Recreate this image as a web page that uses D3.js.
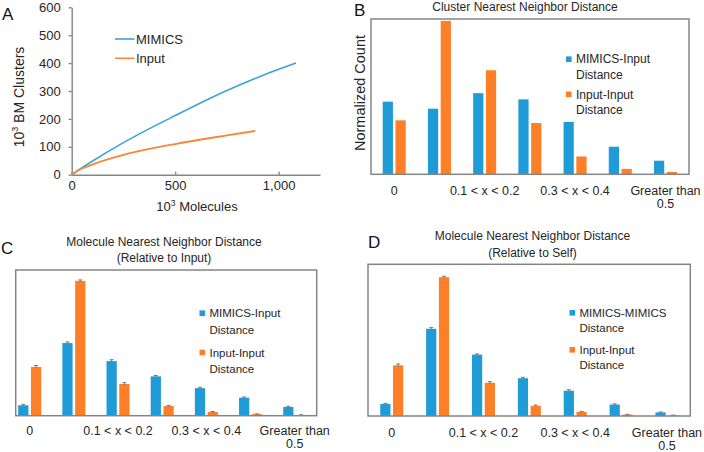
<!DOCTYPE html>
<html>
<head>
<meta charset="utf-8">
<script src="https://cdn.jsdelivr.net/npm/d3@7"></script>
<style>
  html, body { margin: 0; padding: 0; background: #fff; }
  svg { display: block; font-family: "Liberation Sans", Arial, sans-serif; }
</style>
</head>
<body>
<svg id="chart" width="704" height="452"></svg>
<script>
// ---------- DATA ----------
// Panel A: cumulative BM clusters vs molecules (10^3)
const mimicsCurveX = [0, 50, 105, 250, 500, 750, 910, 1084];
const mimicsCurveY = [0, 25, 51, 115, 212, 302, 352, 400];
const inputCurveX  = [0, 50, 105, 250, 500, 750, 887];
const inputCurveY  = [0, 22, 38, 71, 110, 141, 157];
const axisATicksX = [0, 500, 1000];
const axisATicksY = [0, 100, 200, 300, 400, 500, 600];

// Distance bins
const categories = ["0", "0 < x < 0.1", "0.1 < x < 0.2", "0.2 < x < 0.3", "0.3 < x < 0.4", "0.4 < x < 0.5", "Greater than 0.5"];
const shownTickLabels = ["0", "0.1 < x < 0.2", "0.3 < x < 0.4", "Greater than 0.5"];

// Panel B: cluster nearest neighbor distance
const clusterMimicsInput = [0.187, 0.169, 0.209, 0.193, 0.135, 0.071, 0.035];
const clusterInputInput  = [0.139, 0.395, 0.268, 0.132, 0.046, 0.014, 0.006];

// Panel C: molecule NN distance (relative to input)
const relInputMimics    = [0.045, 0.314, 0.236, 0.170, 0.119, 0.078, 0.038];
const relInputMimicsErr = [0.004, 0.005, 0.006, 0.004, 0.004, 0.003, 0.003];
const relInputInput     = [0.211, 0.583, 0.137, 0.042, 0.016, 0.007, 0.003];
const relInputInputErr  = [0.006, 0.004, 0.006, 0.003, 0.002, 0.001, 0.001];

// Panel D: molecule NN distance (relative to self)
const relSelfMimics    = [0.050, 0.365, 0.257, 0.158, 0.106, 0.048, 0.015];
const relSelfMimicsErr = [0.003, 0.005, 0.003, 0.004, 0.004, 0.003, 0.002];
const relSelfInput     = [0.212, 0.581, 0.139, 0.043, 0.017, 0.006, 0.003];
const relSelfInputErr  = [0.006, 0.004, 0.005, 0.003, 0.002, 0.001, 0.001];

// ---------- STYLE ----------
const BLUE = "#1f9bd7";
const ORANGE = "#fd7f28";
const FRAME = "#858585";
const TEXT = "#262626";

const svg = d3.select("#chart");
svg.append("rect").attr("width", 704).attr("height", 452).attr("fill", "#fff");

function panelLetter(t, x, y) {
  svg.append("text").attr("x", x).attr("y", y).attr("font-size", 17)
    .attr("fill", "#111").text(t);
}

// ---------- PANEL A ----------
(function () {
  const x = d3.scaleLinear().domain([0, 1200]).range([71.7, 320]);
  const y = d3.scaleLinear().domain([0, 600]).range([174.7, 7.3]);
  const g = svg.append("g");

  const xAxis = g.append("g").attr("transform", `translate(0,${y(0)})`)
    .call(d3.axisBottom(x).tickValues(axisATicksX).tickSize(-3).tickSizeOuter(0).tickPadding(8));
  const yAxis = g.append("g").attr("transform", `translate(${x(0)},0)`)
    .call(d3.axisLeft(y).tickValues(axisATicksY).tickSize(3).tickSizeOuter(0).tickPadding(8));
  [xAxis, yAxis].forEach(a => {
    a.selectAll("path, line").attr("stroke", FRAME).attr("stroke-width", 1.4);
    a.selectAll("text").attr("font-size", 13).attr("fill", TEXT)
      .attr("font-family", "Liberation Sans, Arial, sans-serif");
  });
  xAxis.selectAll("text").attr("dy", "0.6em");

  const line = d3.line().x(d => x(d[0])).y(d => y(d[1])).curve(d3.curveMonotoneX);
  const mim = mimicsCurveX.map((v, i) => [v, mimicsCurveY[i]]);
  const inp = inputCurveX.map((v, i) => [v, inputCurveY[i]]);
  g.append("path").datum(mim).attr("d", line).attr("fill", "none")
    .attr("stroke", "#3aa2dc").attr("stroke-width", 1.6);
  g.append("path").datum(inp).attr("d", line).attr("fill", "none")
    .attr("stroke", "#f8873a").attr("stroke-width", 1.8);

  // legend
  const leg = [["MIMICS", "#3aa2dc", 39], ["Input", "#f8873a", 58.3]];
  leg.forEach(([t, c, yy]) => {
    g.append("line").attr("x1", 115).attr("x2", 134.5).attr("y1", yy).attr("y2", yy)
      .attr("stroke", c).attr("stroke-width", 1.6);
    g.append("text").attr("x", 136).attr("y", yy).attr("dy", "0.35em")
      .attr("font-size", 13).attr("fill", TEXT).text(t);
  });

  // axis titles
  const yl = g.append("text").attr("transform", "translate(24,97) rotate(-90)")
    .attr("text-anchor", "middle").attr("font-size", 14).attr("fill", TEXT);
  yl.append("tspan").text("10");
  yl.append("tspan").attr("font-size", 9).attr("dy", -6).text("3");
  yl.append("tspan").attr("dy", 6).text(" BM Clusters");

  const xl = g.append("text").attr("x", 197).attr("y", 211)
    .attr("text-anchor", "middle").attr("font-size", 13).attr("fill", TEXT);
  xl.append("tspan").text("10");
  xl.append("tspan").attr("font-size", 8.5).attr("dy", -5).text("3");
  xl.append("tspan").attr("dy", 5).text(" Molecules");

  panelLetter("A", 2, 20);
})();

// ---------- BAR PANELS ----------
function barPanel(opt) {
  const g = svg.append("g");
  const x0 = d3.scaleBand().domain(categories).range(opt.xRange).padding(0);
  const x1 = d3.scaleBand().domain(["a", "b"]).range([-11.5, 11.5]).paddingInner(0.2);
  const y = d3.scaleLinear().domain([0, opt.yMax]).range([opt.frame[3], opt.frame[1]]);
  const mid = c => x0(c) + x0.bandwidth() / 2;

  const series = [
    { key: "a", vals: opt.a, err: opt.aErr, color: BLUE },
    { key: "b", vals: opt.b, err: opt.bErr, color: ORANGE }
  ];
  series.forEach(s => {
    g.selectAll(null).data(categories).enter().append("rect")
      .attr("x", c => mid(c) + x1(s.key))
      .attr("width", x1.bandwidth())
      .attr("y", (c, i) => y(s.vals[i]))
      .attr("height", (c, i) => y(0) - y(s.vals[i]))
      .attr("fill", s.color);
    if (s.err) {
      categories.forEach((c, i) => {
        const cx = mid(c) + x1(s.key) + x1.bandwidth() / 2;
        const top = y(s.vals[i] + s.err[i]), bot = y(Math.max(0, s.vals[i] - s.err[i]));
        g.append("line").attr("x1", cx).attr("x2", cx).attr("y1", top).attr("y2", bot)
          .attr("stroke", "#7a7a7a").attr("stroke-width", 1);
        g.append("line").attr("x1", cx - 2).attr("x2", cx + 2).attr("y1", top).attr("y2", top)
          .attr("stroke", "#7a7a7a").attr("stroke-width", 1);
      });
    }
  });

  // frame
  const [fx0, fy0, fx1, fy1] = opt.frame;
  g.append("rect").attr("x", fx0).attr("y", fy0).attr("width", fx1 - fx0).attr("height", fy1 - fy0)
    .attr("fill", "none").attr("stroke", FRAME).attr("stroke-width", 1.5);

  // category labels (every other)
  shownTickLabels.forEach(lbl => {
    const cx = mid(lbl);
    const t = g.append("text").attr("x", cx).attr("y", opt.labelY)
      .attr("text-anchor", "middle").attr("font-size", 12.5).attr("fill", TEXT);
    if (lbl === "Greater than 0.5") {
      t.append("tspan").attr("x", cx).text("Greater than");
      t.append("tspan").attr("x", cx).attr("dy", 13.3).text("0.5");
    } else {
      t.text(lbl);
    }
  });

  // title
  opt.title.forEach((ln, i) => {
    g.append("text").attr("x", opt.titleX).attr("y", opt.titleY[i]).attr("dy", "0.35em")
      .attr("text-anchor", "middle").attr("font-size", 12).attr("fill", TEXT).text(ln);
  });

  // legend
  opt.legend.forEach(item => {
    g.append("rect").attr("x", opt.legX).attr("y", item.y - 2.8).attr("width", 5.6).attr("height", 5.6)
      .attr("fill", item.color);
    item.lines.forEach((ln, i) => {
      g.append("text").attr("x", opt.legX + 10).attr("y", item.y + i * opt.legLine).attr("dy", "0.35em")
        .attr("font-size", opt.legFont).attr("fill", TEXT).text(ln);
    });
  });

  if (opt.yLabel) {
    g.append("text").attr("transform", `translate(${opt.yLabel.x},${opt.yLabel.y}) rotate(-90)`)
      .attr("text-anchor", "middle").attr("font-size", 14.5).attr("fill", TEXT).text(opt.yLabel.text);
  }
}

barPanel({
  a: clusterMimicsInput, b: clusterInputInput,
  frame: [371, 19, 689, 174.3], xRange: [371.6, 688.1], yMax: 0.40,
  labelY: 194.5,
  title: ["Cluster Nearest Neighbor Distance"], titleX: 525, titleY: [7],
  legX: 566, legFont: 12, legLine: 15.3,
  legend: [
    { color: BLUE, y: 59.2, lines: ["MIMICS-Input", "Distance"] },
    { color: ORANGE, y: 94.3, lines: ["Input-Input", "Distance"] }
  ],
  yLabel: { x: 365, y: 93, text: "Normalized Count" }
});
panelLetter("B", 354, 16);

barPanel({
  a: relInputMimics, aErr: relInputMimicsErr, b: relInputInput, bErr: relInputInputErr,
  frame: [15.7, 270, 316.7, 415.7], xRange: [7.6, 316.8], yMax: 0.63,
  labelY: 434.5,
  title: ["Molecule Nearest Neighbor Distance", "(Relative to Input)"], titleX: 164, titleY: [241.5, 257.5],
  legX: 199.5, legFont: 11.5, legLine: 16.5,
  legend: [
    { color: BLUE, y: 313.2, lines: ["MIMICS-Input", "Distance"] },
    { color: ORANGE, y: 352.5, lines: ["Input-Input", "Distance"] }
  ]
});
panelLetter("C", 1, 254);

barPanel({
  a: relSelfMimics, aErr: relSelfMimicsErr, b: relSelfInput, bErr: relSelfInputErr,
  frame: [368, 264.3, 690.3, 416], xRange: [368.8, 689.9], yMax: 0.635,
  labelY: 436.8,
  title: ["Molecule Nearest Neighbor Distance", "(Relative to Self)"], titleX: 532.5, titleY: [236, 253],
  legX: 569.5, legFont: 11.5, legLine: 15.3,
  legend: [
    { color: BLUE, y: 312.8, lines: ["MIMICS-MIMICS", "Distance"] },
    { color: ORANGE, y: 349.8, lines: ["Input-Input", "Distance"] }
  ]
});
panelLetter("D", 368, 248);
</script>
</body>
</html>
